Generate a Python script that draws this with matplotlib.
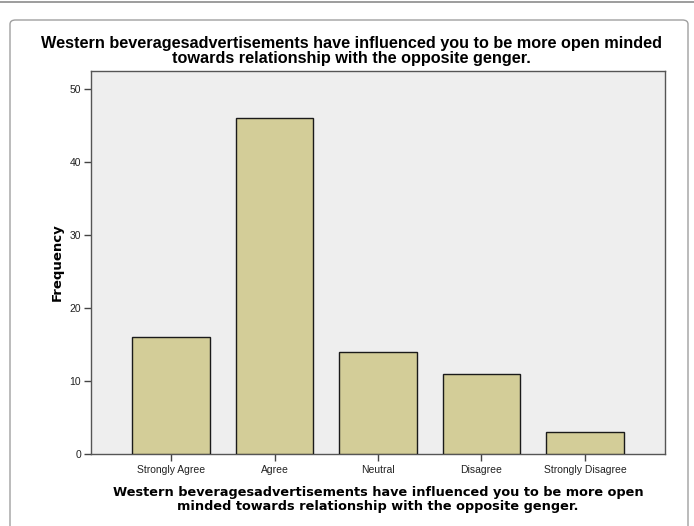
import matplotlib.pyplot as plt
from matplotlib.patches import FancyBboxPatch
from matplotlib.lines import Line2D

categories = ["Strongly Agree", "Agree", "Neutral", "Disagree", "Strongly Disagree"]
frequency = [16, 46, 14, 11, 3]
y_ticks = [0, 10, 20, 30, 40, 50]

title = ("Western beveragesadvertisements have influenced you to be more open minded\n"
         "towards relationship with the opposite genger.")
xlabel = ("Western beveragesadvertisements have influenced you to be more open\n"
          "minded towards relationship with the opposite genger.")

W, H = 694, 526
fig = plt.figure(figsize=(W / 100, H / 100), dpi=100)
fig.patch.set_facecolor("white")

# outer decorations: top rule and rounded frame
fig.add_artist(Line2D([0, 1], [1 - 2 / H, 1 - 2 / H], color="#8c8c8c", lw=1.2))
frame = FancyBboxPatch((10 / W, -0.2), (688 - 10) / W, 1 - 20 / H + 0.2,
                       boxstyle="round,pad=0,rounding_size=0.008",
                       transform=fig.transFigure, facecolor="none",
                       edgecolor="#a0a0a0", lw=1.0)
fig.add_artist(frame)

left, right, top, bottom = 91, 665, 71, 454
ax = fig.add_axes([left / W, 1 - bottom / H, (right - left) / W, (bottom - top) / H])
ax.set_facecolor("#eeeeee")

x = range(len(categories))
ax.bar(x, frequency, width=0.75, color="#d3cd98", edgecolor="#1a1a1a", lw=1.0, zorder=3)

ax.set_xlim(-0.773, 4.773)
ax.set_ylim(0, 52.5)
ax.set_yticks(y_ticks)
ax.set_xticks(list(x))
ax.set_xticklabels(categories, fontsize=7.5, family="Liberation Sans", color="#222222")
ax.tick_params(axis="y", labelsize=7.5, length=5, width=1, color="#444444", pad=2,
               labelcolor="#222222")
ax.tick_params(axis="x", length=5, width=1, color="#444444", pad=3)
for lab in ax.get_yticklabels():
    lab.set_family("Liberation Sans")
for s in ax.spines.values():
    s.set_color("#555555")
    s.set_linewidth(1.0)

ax.set_ylabel("Frequency", fontsize=9.5, fontweight="bold", family="DejaVu Sans", labelpad=4)
ax.set_xlabel(xlabel, fontsize=9.25, fontweight="bold", family="DejaVu Sans", labelpad=8,
              linespacing=1.1)

fig.text(0.5 * (40 + 663) / W, 1 - 51 / H, title, ha="center", va="center",
         fontsize=11.7, fontweight="bold", family="Liberation Sans", linespacing=0.95)

fig.savefig("out.png", dpi=100)
